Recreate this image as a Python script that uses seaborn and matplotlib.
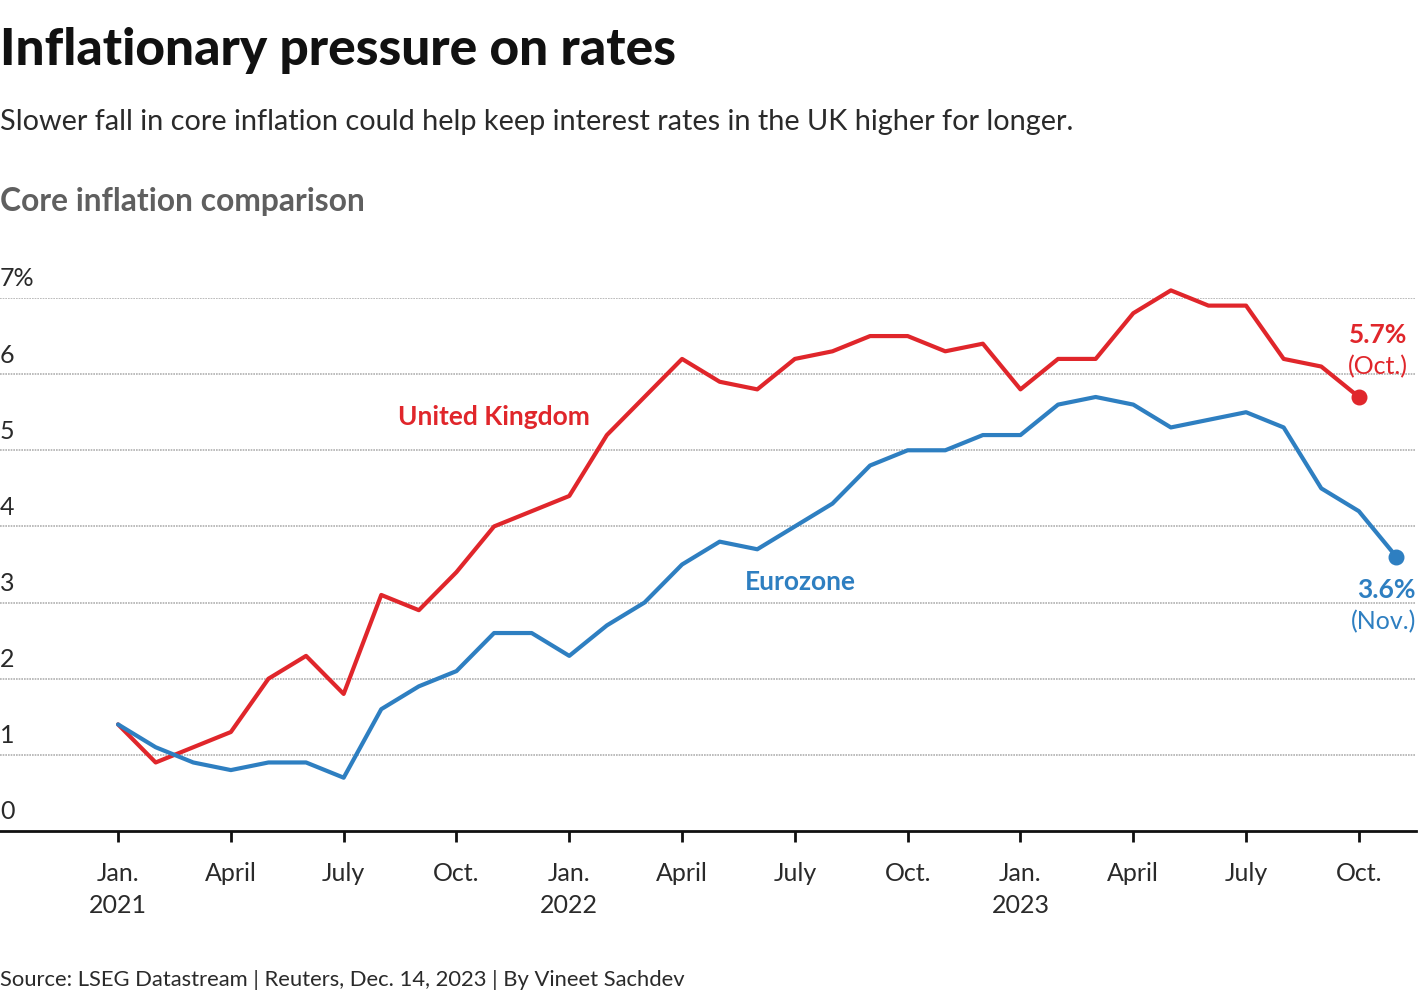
import matplotlib
matplotlib.use("Agg")
import matplotlib.pyplot as plt
import seaborn as sns
import pandas as pd
import numpy as np

uk = [1.4, 0.9, 1.1, 1.3, 2.0, 2.3, 1.8, 3.1, 2.9, 3.4, 4.0, 4.2,
      4.4, 5.2, 5.7, 6.2, 5.9, 5.8, 6.2, 6.3, 6.5, 6.5, 6.3, 6.4,
      5.8, 6.2, 6.2, 6.8, 7.1, 6.9, 6.9, 6.2, 6.1, 5.7]
ez = [1.4, 1.1, 0.9, 0.8, 0.9, 0.9, 0.7, 1.6, 1.9, 2.1, 2.6, 2.6,
      2.3, 2.7, 3.0, 3.5, 3.8, 3.7, 4.0, 4.3, 4.8, 5.0, 5.0, 5.2,
      5.2, 5.6, 5.7, 5.6, 5.3, 5.4, 5.5, 5.3, 4.5, 4.2, 3.6]
series_names = ["United Kingdom", "Eurozone"]
series_colors = ["#e0262b", "#2e7fc1"]
tick_months = [0, 3, 6, 9, 12, 15, 18, 21, 24, 27, 30, 33]
tick_labels = ["Jan.\n2021", "April", "July", "Oct.", "Jan.\n2022", "April", "July",
               "Oct.", "Jan.\n2023", "April", "July", "Oct."]
y_ticks = [0, 1, 2, 3, 4, 5, 6, 7]
y_labels = ["0", "1", "2", "3", "4", "5", "6", "7%"]

df = pd.concat([
    pd.DataFrame({"month": np.arange(len(uk)), "value": uk, "series": series_names[0]}),
    pd.DataFrame({"month": np.arange(len(ez)), "value": ez, "series": series_names[1]}),
])

sns.set_theme(style="white")
plt.rcParams["font.family"] = ["Lato", "DejaVu Sans"]

LIGHT = "normal"
TXT = "#2a2a2a"

fig = plt.figure(figsize=(14.2, 10), dpi=100)
ax = fig.add_axes([0.0, 0.169, 0.9972, 0.533])

sns.lineplot(data=df, x="month", y="value", hue="series", palette=series_colors,
             hue_order=series_names, linewidth=3, ax=ax, legend=False, clip_on=False)

ax.scatter([len(uk) - 1], [uk[-1]], s=110, color=series_colors[0], zorder=5, clip_on=False)
ax.scatter([len(ez) - 1], [ez[-1]], s=110, color=series_colors[1], zorder=5, clip_on=False)

ax.set_xlim(-3.14, 34.52)
ax.set_ylim(0, 7)
ax.set_xlabel("")
ax.set_ylabel("")

for s in ["top", "right", "left"]:
    ax.spines[s].set_visible(False)
ax.spines["bottom"].set_color("#111111")
ax.spines["bottom"].set_linewidth(2)

ax.set_xticks(tick_months)
ax.set_xticklabels(tick_labels, fontsize=18, color=TXT, fontweight=LIGHT,
                   linespacing=1.5)
ax.tick_params(axis="x", length=8, width=2, color="#111111", pad=14, bottom=True)

ax.set_yticks(y_ticks)
ax.set_yticklabels([])
ax.tick_params(axis="y", length=0)
for yv, lab in zip(y_ticks, y_labels):
    if yv > 0:
        ax.axhline(yv, color="#b0b0b0", linewidth=1.2, linestyle=(0, (1, 0.6)), zorder=0)
    ax.text(-3.14, yv + 0.1, lab, fontsize=18, color=TXT, fontweight=LIGHT,
            ha="left", va="bottom")

ax.text(10.0, 5.44, "United Kingdom", color=series_colors[0], fontsize=19,
        fontweight="bold", ha="center", va="center")
ax.text(18.15, 3.27, "Eurozone", color=series_colors[1], fontsize=19,
        fontweight="bold", ha="center", va="center")

ax.text(34.3, 6.52, "5.7%", color=series_colors[0], fontsize=19, fontweight="bold",
        ha="right", va="center")
ax.text(34.3, 6.1, "(Oct.)", color=series_colors[0], fontsize=18, fontweight=LIGHT,
        ha="right", va="center")
ax.text(34.52, 3.17, "3.6%", color=series_colors[1], fontsize=19, fontweight="bold",
        ha="right", va="center")
ax.text(34.52, 2.75, "(Nov.)", color=series_colors[1], fontsize=18, fontweight=LIGHT,
        ha="right", va="center")

fig.text(0.0, 0.950, "Inflationary pressure on rates", fontsize=37, fontweight="black",
         color="#111111", ha="left", va="center")
fig.text(0.0, 0.878, "Slower fall in core inflation could help keep interest rates in the UK higher for longer.",
         fontsize=20.8, fontweight=LIGHT, color=TXT, ha="left", va="center")
fig.text(0.0, 0.798, "Core inflation comparison", fontsize=22.9, fontweight="bold",
         color="#5f5f5f", ha="left", va="center")
fig.text(0.0, 0.020, "Source: LSEG Datastream | Reuters, Dec. 14, 2023 | By Vineet Sachdev",
         fontsize=15.8, color=TXT, ha="left", va="center")

fig.savefig("out.png", dpi=100)
